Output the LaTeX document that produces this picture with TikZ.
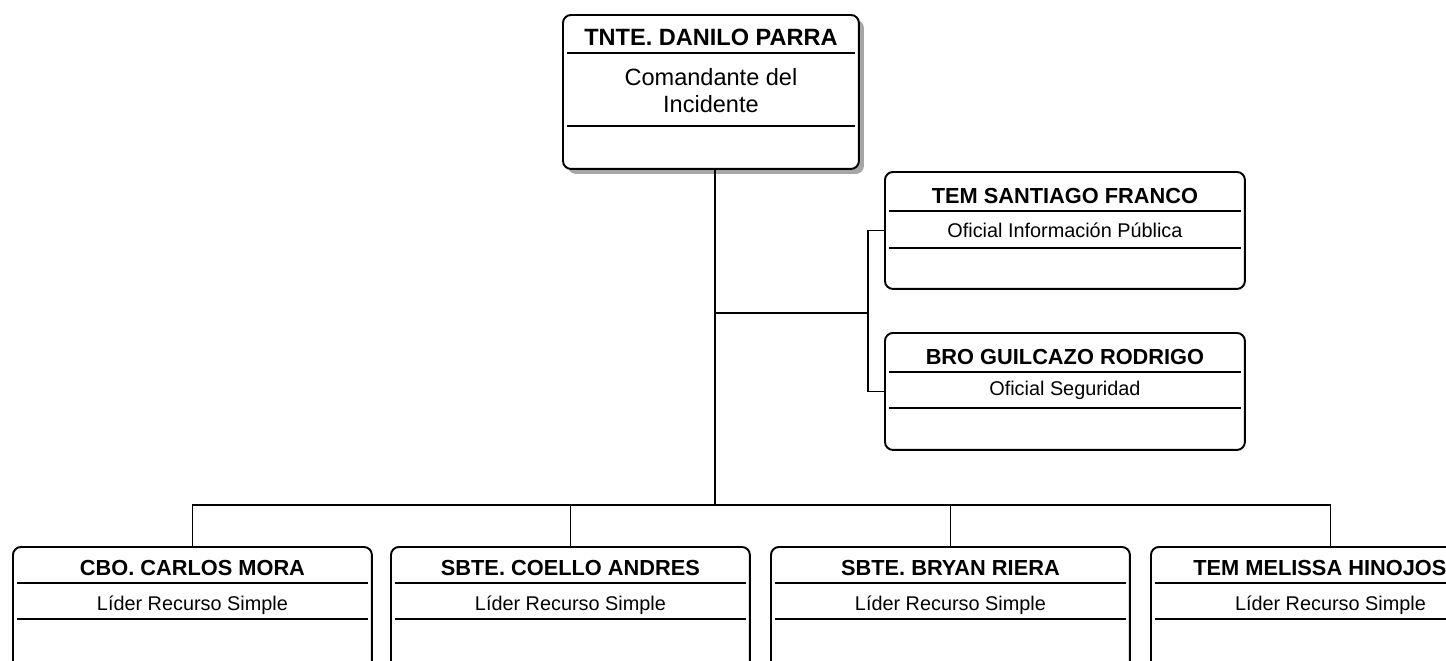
\documentclass[tikz,border=0pt]{standalone}
\usepackage{fontspec}
\setmainfont{Liberation Sans}
\usepackage{tikz}
\usetikzlibrary{positioning,calc,shadows}

\begin{document}
\begin{tikzpicture}[x=0.02cm,y=-0.02cm,
  caja/.style={draw, line width=1.1pt, rounded corners=0.16cm, fill=white, anchor=north west, inner sep=0pt},
  nombre/.style={anchor=base, inner sep=0pt, font=\bfseries\fontsize{12.4}{14}\selectfont},
  cargo/.style={anchor=base, inner sep=0pt, font=\fontsize{11.3}{13}\selectfont},
  linea/.style={line width=1pt}]
\useasboundingbox (0,0) rectangle (1446,660);
\clip (0,0) rectangle (1446,660);

% comandante
\node[caja, minimum width=5.92cm, minimum height=3.08cm,
  drop shadow={shadow xshift=0.1cm, shadow yshift=-0.1cm, fill=black!35, opacity=1}] (jefe) at (562,14) {};
\node[nombre, font=\bfseries\fontsize{13.4}{15}\selectfont] (jefe-n) at ($(jefe.north)+(0,31)$) {TNTE. DANILO PARRA};
\node[inner sep=0pt, align=center, font=\fontsize{13.4}{15.3}\selectfont] (jefe-c) at ($(jefe.north)+(0,77)$) {Comandante del\\Incidente};
\draw[linea] ($(jefe.north west)+(5,39)$) -- ($(jefe.north east)+(-5,39)$);
\draw[linea] ($(jefe.north west)+(5,112)$) -- ($(jefe.north east)+(-5,112)$);

% staff
\node[caja, minimum width=7.2cm, minimum height=2.34cm] (s) at (884,171) {};
\node[nombre] (s-n) at ($(s.north)+(0,32)$) {TEM SANTIAGO FRANCO};
\node[cargo] (s-c) at ($(s.north)+(0,66)$) {Oficial Información Pública};
\draw[linea] ($(s.north west)+(5,40)$) -- ($(s.north east)+(-5,40)$);
\draw[linea] ($(s.north west)+(5,77)$) -- ($(s.north east)+(-5,77)$);

\node[caja, minimum width=7.2cm, minimum height=2.34cm] (g) at (884,332) {};
\node[nombre] (g-n) at ($(g.north)+(0,32)$) {BRO GUILCAZO RODRIGO};
\node[cargo] (g-c) at ($(g.north)+(0,63)$) {Oficial Seguridad};
\draw[linea] ($(g.north west)+(5,40)$) -- ($(g.north east)+(-5,40)$);
\draw[linea] ($(g.north west)+(5,76)$) -- ($(g.north east)+(-5,76)$);

% recursos
\node[caja, minimum width=7.18cm, minimum height=4cm] (a) at (12,546) {};
\node[caja, minimum width=7.18cm, minimum height=4cm] (b) at (390,546) {};
\node[caja, minimum width=7.18cm, minimum height=4cm] (c) at (770,546) {};
\node[caja, minimum width=7.18cm, minimum height=4cm] (d) at (1150,546) {};
\node[nombre] (a-n) at ($(a.north)+(0,29)$) {CBO. CARLOS MORA};
\node[nombre] (b-n) at ($(b.north)+(0,29)$) {SBTE. COELLO ANDRES};
\node[nombre] (c-n) at ($(c.north)+(0,29)$) {SBTE. BRYAN RIERA};
\node[nombre, anchor=base west] (d-n) at ($(d.north west)+(43,29)$) {TEM MELISSA HINOJOS};
\foreach \k in {a,b,c,d}{
  \node[cargo] (\k-c) at ($(\k.north)+(0,64)$) {Líder Recurso Simple};
  \draw[linea] ($(\k.north west)+(5,37)$) -- ($(\k.north east)+(-5,37)$);
  \draw[linea] ($(\k.north west)+(5,73)$) -- ($(\k.north east)+(-5,73)$);
}

% lineas
\coordinate (rama) at (715,313);
\coordinate (llave) at (868,313);
\coordinate (bus) at (715,505);
\draw[linea] (jefe.south -| bus) -- (bus);
\draw[linea] (rama) -- (llave);
\draw[linea] (s.west) -| (llave) |- (g.west);
\draw[linea] (a.north) |- (bus) -| (d.north);
\draw[linea] (b.north) -- (b.north |- bus);
\draw[linea] (c.north) -- (c.north |- bus);
\end{tikzpicture}
\end{document}
